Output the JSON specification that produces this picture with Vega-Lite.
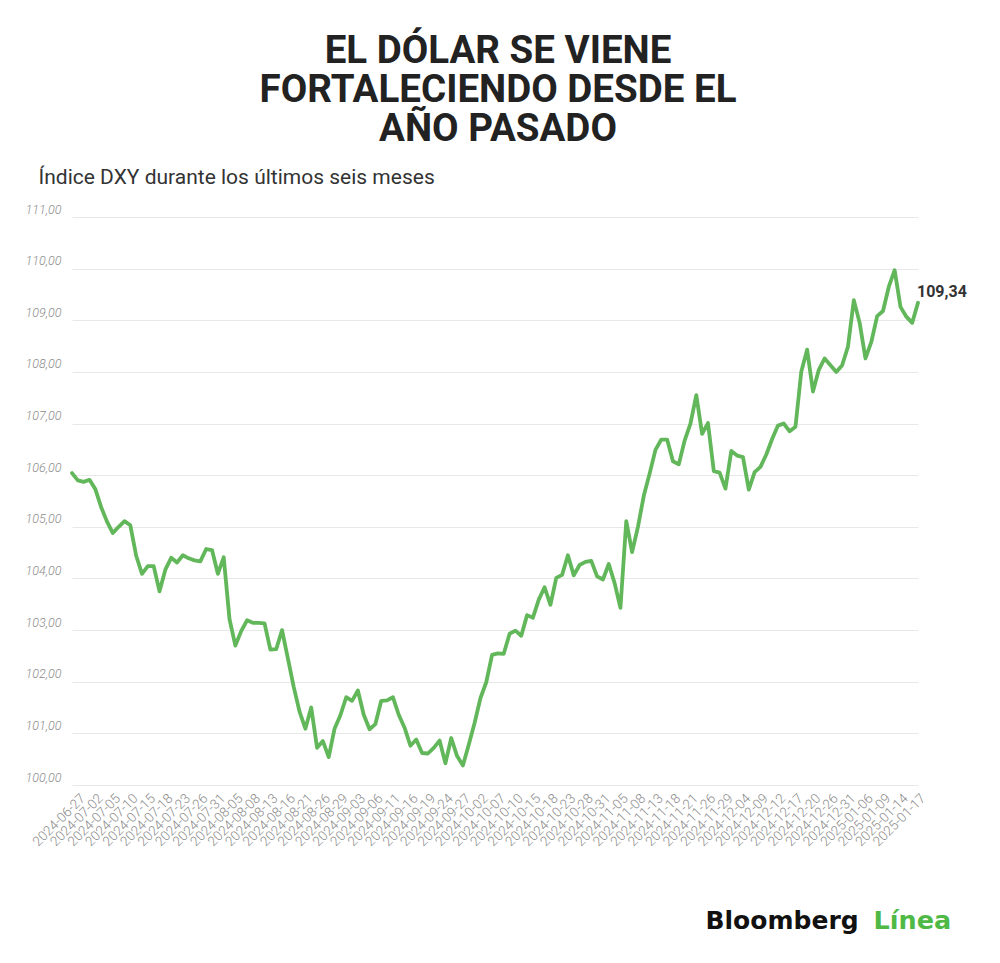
{
  "$schema": "https://vega.github.io/schema/vega-lite/v6.json",
  "autosize": {"type": "none"},
  "width": 898,
  "height": 568,
  "padding": {"left": 23, "top": 217, "right": 79, "bottom": 178},
  "background": "white",
  "title": {
    "text": ["EL DÓLAR SE VIENE", "FORTALECIENDO DESDE EL", "AÑO PASADO"],
    "anchor": "middle",
    "dx": 26,
    "offset": 17,
    "fontSize": 38.5,
    "fontWeight": "bold",
    "font": "Roboto",
    "color": "#222222",
    "lineHeight": 39
  },
  "config": {
    "font": "Roboto",
    "view": {"stroke": null},
    "locale": {"number": {"decimal": ",", "thousands": ".", "grouping": [3], "currency": ["", " €"]}}
  },
  "data": {
    "values": [
      {"date": "2024-06-26", "value": 106.04},
      {"date": "2024-06-27", "value": 105.90},
      {"date": "2024-06-28", "value": 105.87},
      {"date": "2024-07-01", "value": 105.91},
      {"date": "2024-07-02", "value": 105.73},
      {"date": "2024-07-03", "value": 105.38},
      {"date": "2024-07-04", "value": 105.10},
      {"date": "2024-07-05", "value": 104.88},
      {"date": "2024-07-08", "value": 105.00},
      {"date": "2024-07-09", "value": 105.11},
      {"date": "2024-07-10", "value": 105.03},
      {"date": "2024-07-11", "value": 104.44},
      {"date": "2024-07-12", "value": 104.09},
      {"date": "2024-07-15", "value": 104.24},
      {"date": "2024-07-16", "value": 104.24},
      {"date": "2024-07-17", "value": 103.75},
      {"date": "2024-07-18", "value": 104.17},
      {"date": "2024-07-19", "value": 104.40},
      {"date": "2024-07-22", "value": 104.31},
      {"date": "2024-07-23", "value": 104.45},
      {"date": "2024-07-24", "value": 104.39},
      {"date": "2024-07-25", "value": 104.35},
      {"date": "2024-07-26", "value": 104.33},
      {"date": "2024-07-29", "value": 104.57},
      {"date": "2024-07-30", "value": 104.55},
      {"date": "2024-07-31", "value": 104.09},
      {"date": "2024-08-01", "value": 104.41},
      {"date": "2024-08-02", "value": 103.21},
      {"date": "2024-08-05", "value": 102.70},
      {"date": "2024-08-06", "value": 102.98},
      {"date": "2024-08-07", "value": 103.19},
      {"date": "2024-08-08", "value": 103.14},
      {"date": "2024-08-09", "value": 103.14},
      {"date": "2024-08-12", "value": 103.13},
      {"date": "2024-08-13", "value": 102.62},
      {"date": "2024-08-14", "value": 102.63},
      {"date": "2024-08-15", "value": 103.00},
      {"date": "2024-08-16", "value": 102.45},
      {"date": "2024-08-19", "value": 101.90},
      {"date": "2024-08-20", "value": 101.42},
      {"date": "2024-08-21", "value": 101.09},
      {"date": "2024-08-22", "value": 101.50},
      {"date": "2024-08-23", "value": 100.72},
      {"date": "2024-08-26", "value": 100.85},
      {"date": "2024-08-27", "value": 100.54},
      {"date": "2024-08-28", "value": 101.09},
      {"date": "2024-08-29", "value": 101.35},
      {"date": "2024-08-30", "value": 101.70},
      {"date": "2024-09-02", "value": 101.63},
      {"date": "2024-09-03", "value": 101.83},
      {"date": "2024-09-04", "value": 101.36},
      {"date": "2024-09-05", "value": 101.08},
      {"date": "2024-09-06", "value": 101.18},
      {"date": "2024-09-09", "value": 101.63},
      {"date": "2024-09-10", "value": 101.64},
      {"date": "2024-09-11", "value": 101.70},
      {"date": "2024-09-12", "value": 101.36},
      {"date": "2024-09-13", "value": 101.11},
      {"date": "2024-09-16", "value": 100.76},
      {"date": "2024-09-17", "value": 100.88},
      {"date": "2024-09-18", "value": 100.62},
      {"date": "2024-09-19", "value": 100.61},
      {"date": "2024-09-20", "value": 100.72},
      {"date": "2024-09-23", "value": 100.86},
      {"date": "2024-09-24", "value": 100.42},
      {"date": "2024-09-25", "value": 100.91},
      {"date": "2024-09-26", "value": 100.56},
      {"date": "2024-09-27", "value": 100.38},
      {"date": "2024-09-30", "value": 100.78},
      {"date": "2024-10-01", "value": 101.20},
      {"date": "2024-10-02", "value": 101.68},
      {"date": "2024-10-03", "value": 101.99},
      {"date": "2024-10-04", "value": 102.52},
      {"date": "2024-10-07", "value": 102.55},
      {"date": "2024-10-08", "value": 102.54},
      {"date": "2024-10-09", "value": 102.93},
      {"date": "2024-10-10", "value": 102.99},
      {"date": "2024-10-11", "value": 102.89},
      {"date": "2024-10-14", "value": 103.29},
      {"date": "2024-10-15", "value": 103.24},
      {"date": "2024-10-16", "value": 103.59},
      {"date": "2024-10-17", "value": 103.83},
      {"date": "2024-10-18", "value": 103.49},
      {"date": "2024-10-21", "value": 104.01},
      {"date": "2024-10-22", "value": 104.07},
      {"date": "2024-10-23", "value": 104.45},
      {"date": "2024-10-24", "value": 104.06},
      {"date": "2024-10-25", "value": 104.26},
      {"date": "2024-10-28", "value": 104.32},
      {"date": "2024-10-29", "value": 104.34},
      {"date": "2024-10-30", "value": 104.04},
      {"date": "2024-10-31", "value": 103.98},
      {"date": "2024-11-01", "value": 104.28},
      {"date": "2024-11-04", "value": 103.91},
      {"date": "2024-11-05", "value": 103.43},
      {"date": "2024-11-06", "value": 105.11},
      {"date": "2024-11-07", "value": 104.51},
      {"date": "2024-11-08", "value": 105.00},
      {"date": "2024-11-11", "value": 105.60},
      {"date": "2024-11-12", "value": 106.03},
      {"date": "2024-11-13", "value": 106.49},
      {"date": "2024-11-14", "value": 106.69},
      {"date": "2024-11-15", "value": 106.69},
      {"date": "2024-11-18", "value": 106.27},
      {"date": "2024-11-19", "value": 106.21},
      {"date": "2024-11-20", "value": 106.67},
      {"date": "2024-11-21", "value": 107.00},
      {"date": "2024-11-22", "value": 107.55},
      {"date": "2024-11-25", "value": 106.80},
      {"date": "2024-11-26", "value": 107.01},
      {"date": "2024-11-27", "value": 106.08},
      {"date": "2024-11-28", "value": 106.05},
      {"date": "2024-11-29", "value": 105.74},
      {"date": "2024-12-02", "value": 106.47},
      {"date": "2024-12-03", "value": 106.38},
      {"date": "2024-12-04", "value": 106.35},
      {"date": "2024-12-05", "value": 105.72},
      {"date": "2024-12-06", "value": 106.06},
      {"date": "2024-12-09", "value": 106.16},
      {"date": "2024-12-10", "value": 106.40},
      {"date": "2024-12-11", "value": 106.70},
      {"date": "2024-12-12", "value": 106.96},
      {"date": "2024-12-13", "value": 107.00},
      {"date": "2024-12-16", "value": 106.85},
      {"date": "2024-12-17", "value": 106.94},
      {"date": "2024-12-18", "value": 108.01},
      {"date": "2024-12-19", "value": 108.43},
      {"date": "2024-12-20", "value": 107.62},
      {"date": "2024-12-23", "value": 108.04},
      {"date": "2024-12-24", "value": 108.26},
      {"date": "2024-12-26", "value": 108.13},
      {"date": "2024-12-27", "value": 108.00},
      {"date": "2024-12-30", "value": 108.13},
      {"date": "2024-12-31", "value": 108.49},
      {"date": "2025-01-02", "value": 109.39},
      {"date": "2025-01-03", "value": 108.95},
      {"date": "2025-01-06", "value": 108.26},
      {"date": "2025-01-07", "value": 108.58},
      {"date": "2025-01-08", "value": 109.08},
      {"date": "2025-01-09", "value": 109.18},
      {"date": "2025-01-10", "value": 109.65},
      {"date": "2025-01-13", "value": 109.97},
      {"date": "2025-01-14", "value": 109.26},
      {"date": "2025-01-15", "value": 109.07},
      {"date": "2025-01-16", "value": 108.95},
      {"date": "2025-01-17", "value": 109.34}
    ]
  },
  "encoding": {
    "x": {
      "field": "date",
      "type": "ordinal",
      "sort": "ascending",
      "scale": {"type": "point", "range": [49, 895], "padding": 0},
      "axis": {
        "values": ["2024-06-27","2024-07-02","2024-07-05","2024-07-10","2024-07-15","2024-07-18","2024-07-23","2024-07-26","2024-07-31","2024-08-05","2024-08-08","2024-08-13","2024-08-16","2024-08-21","2024-08-26","2024-08-29","2024-09-03","2024-09-06","2024-09-11","2024-09-16","2024-09-19","2024-09-24","2024-09-27","2024-10-02","2024-10-07","2024-10-10","2024-10-15","2024-10-18","2024-10-23","2024-10-28","2024-10-31","2024-11-05","2024-11-08","2024-11-13","2024-11-18","2024-11-21","2024-11-26","2024-11-29","2024-12-04","2024-12-09","2024-12-12","2024-12-17","2024-12-20","2024-12-26","2024-12-31","2025-01-06","2025-01-09","2025-01-14","2025-01-17"],
        "labelAngle": -45,
        "labelFontSize": 13.5,
        "labelFont": "Roboto",
        "labelFontWeight": 300,
        "labelColor": "#8a8a8a",
        "labelPadding": 6,
        "labelOverlap": false,
        "ticks": false,
        "domain": false,
        "grid": false,
        "title": "Bloomberg",
        "titleFont": "DejaVu Sans",
        "titleFontSize": 25,
        "titleFontWeight": "bold",
        "titleColor": "#111111",
        "titleAlign": "left",
        "titleBaseline": "alphabetic",
        "titleAnchor": "start",
        "titleX": 682,
        "titleY": 143
      }
    }
  },
  "resolve": {"axis": {"y": "independent"}},
  "layer": [
    {
      "mark": {"type": "line", "color": "#62b75a", "strokeWidth": 3.8, "strokeJoin": "round", "strokeCap": "round"},
      "encoding": {
        "y": {
          "field": "value",
          "type": "quantitative",
          "scale": {"domain": [100, 111], "nice": false, "zero": false},
          "axis": {
            "values": [100, 101, 102, 103, 104, 105, 106, 107, 108, 109, 110, 111],
            "format": ".2f",
            "orient": "left",
            "grid": true,
            "gridColor": "#e8e8e8",
            "gridWidth": 1,
            "domain": false,
            "ticks": false,
            "tickSize": 0,
            "labelAlign": "left",
            "labelBaseline": "alphabetic",
            "labelPadding": -2,
            "labelOffset": -4,
            "labelFont": "Roboto",
            "labelFontSize": 12.5,
            "labelFontStyle": "italic",
            "labelFontWeight": 300,
            "labelColor": "#8a8a8a",
            "title": "Índice DXY durante los últimos seis meses",
            "titleFont": "Roboto",
            "titleFontSize": 21,
            "titleFontWeight": "normal",
            "titleColor": "#333333",
            "titleAngle": 0,
            "titleAlign": "left",
            "titleBaseline": "alphabetic",
            "titleX": 15,
            "titleY": -34
          }
        }
      }
    },
    {
      "transform": [{"filter": "datum.date == '2025-01-17'"}],
      "mark": {"type": "text", "align": "left", "baseline": "alphabetic", "dx": -1, "dy": -6, "fontSize": 16, "fontWeight": "bold", "color": "#333333", "font": "Roboto"},
      "encoding": {
        "y": {
          "field": "value",
          "type": "quantitative",
          "axis": {
            "orient": "right",
            "labels": false,
            "ticks": false,
            "domain": false,
            "grid": false,
            "title": "Línea",
            "titleFont": "DejaVu Sans",
            "titleFontSize": 25.5,
            "titleFontWeight": "bold",
            "titleColor": "#4fb946",
            "titleAngle": 0,
            "titleAlign": "left",
            "titleBaseline": "alphabetic",
            "titleX": -48,
            "titleY": 711
          }
        },
        "text": {"field": "value", "type": "quantitative", "format": ".2f"}
      }
    }
  ]
}
